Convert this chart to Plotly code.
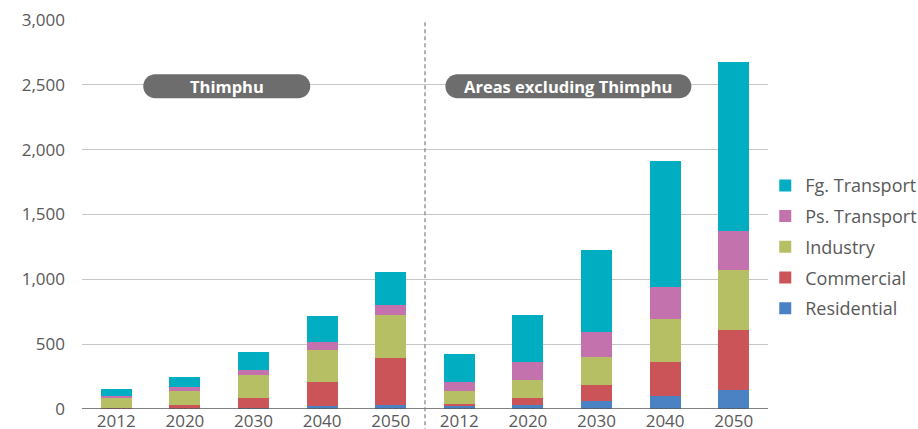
import plotly.graph_objects as go

years = ["2012", "2020", "2030", "2040", "2050"]
regions = ["Thimphu", "Areas excluding Thimphu"]
sectors = ["Residential", "Commercial", "Industry", "Ps. Transport", "Fg. Transport"]

# values: Thimphu 5 years followed by Areas excluding Thimphu 5 years
residential = [3, 3, 10, 26, 31, 26, 31, 59, 103, 146]
commercial = [8, 28, 75, 182, 362, 15, 54, 126, 259, 463]
industry = [77, 108, 177, 249, 332, 98, 139, 216, 332, 463]
ps_transport = [15, 31, 39, 62, 77, 69, 138, 193, 247, 298]
fg_transport = [52, 77, 139, 198, 254, 216, 363, 632, 971, 1305]

colors = ["#4a82c3", "#cb5458", "#b6bf63", "#c472ad", "#00adc1"]
series = [residential, commercial, industry, ps_transport, fg_transport]

tick_labels = years + years
xpos = list(range(len(tick_labels)))

fig = go.Figure()
n = len(sectors)
for i, (name, vals, col) in enumerate(zip(sectors, series, colors)):
    fig.add_trace(go.Bar(
        x=xpos, y=vals, name=name, marker=dict(color=col, line=dict(width=0)),
        width=0.45, legendgroup=name, legendrank=n - i,
    ))

FONT = "Open Sans, Noto Sans, sans-serif"
TXT = "#595959"

fig.update_layout(
    width=918, height=429,
    margin=dict(l=82, r=150, t=20, b=20, autoexpand=False),
    barmode="stack",
    plot_bgcolor="white", paper_bgcolor="white",
    font=dict(family=FONT, size=17, color=TXT),
    showlegend=True,
    legend=dict(
        traceorder="grouped", x=0.996, xanchor="left", y=0.416, yanchor="middle",
        font=dict(size=18, color=TXT), tracegroupgap=4.3, bgcolor="rgba(0,0,0,0)",
    ),
    xaxis=dict(
        range=[-0.5, 9.5], tickmode="array", tickvals=xpos, ticktext=tick_labels,
        showgrid=False, zeroline=False, showline=False, ticks="", automargin=False,
        tickfont=dict(size=17, color=TXT), fixedrange=True,
    ),
    yaxis=dict(
        range=[0, 3000], tickvals=[0, 500, 1000, 1500, 2000, 2500, 3000],
        tickformat=",", showgrid=True, gridcolor="#c6c6c6", gridwidth=1,
        zeroline=False, showline=False, ticks="", ticklabelstandoff=16, automargin=False,
        tickfont=dict(size=17, color=TXT),
    ),
)

# zero baseline
fig.add_shape(type="line", xref="paper", yref="y", x0=0, x1=1, y0=0, y1=0,
              line=dict(color="#595959", width=1.5), layer="above")
# dashed divider between regions
fig.add_shape(type="line", xref="x", yref="paper", x0=4.5, x1=4.5, y0=-0.06, y1=1,
              line=dict(color="#7f7f7f", width=1.2, dash="4px,3px"), layer="above")


def pill(w, h):
    r = h / 2.0
    a = w / 2.0 - r
    k = 0.5523 * r
    return (f"M {-a},{-r} L {a},{-r} "
            f"C {a + k},{-r} {a + r},{-k} {a + r},0 "
            f"C {a + r},{k} {a + k},{r} {a},{r} "
            f"L {-a},{r} "
            f"C {-a - k},{r} {-a - r},{k} {-a - r},0 "
            f"C {-a - r},{-k} {-a - k},{-r} {-a},{-r} Z")


label_x = [1.61, 6.59]
label_w = [167, 246]
for lx, lw, text in zip(label_x, label_w, regions):
    fig.add_shape(type="path", xref="x", yref="y", xsizemode="pixel", ysizemode="pixel",
                  xanchor=lx, yanchor=2490, path=pill(lw, 24),
                  fillcolor="#6d6d6d", line=dict(width=0), layer="above")
    fig.add_annotation(x=lx, y=2490, xref="x", yref="y", text=f"<b>{text}</b>",
                       showarrow=False, font=dict(size=16.5, color="white", family=FONT))

fig.write_html(
    "out.html",
    config={"displayModeBar": False},
    post_script="document.body.style.margin='0';document.body.style.overflow='hidden';",
)
